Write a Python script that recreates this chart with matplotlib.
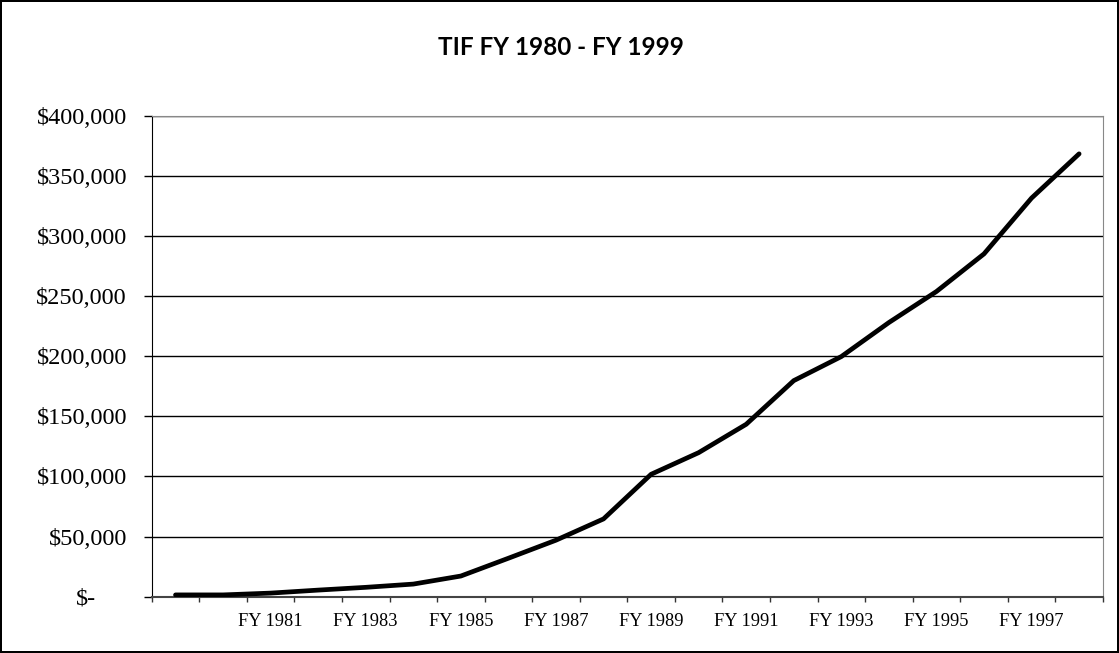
import matplotlib
matplotlib.use("Agg")
import matplotlib.pyplot as plt
import matplotlib.transforms as mtransforms
from matplotlib.ticker import FixedLocator, FuncFormatter

# fiscal years along the category axis (only every other one is labelled)
years = list(range(1979, 1999))
tif = [1500, 1500, 3000, 5500, 7800, 10500, 17200, 32000, 47000, 64700,
       101800, 119800, 143400, 179700, 199700, 228000, 253800, 285100,
       331500, 368300]
label_every = 2
y_ticks = list(range(0, 400001, 50000))
title = "TIF FY 1980 - FY 1999"

fig = plt.figure(figsize=(11.19, 6.53), dpi=100)
fig.patch.set_edgecolor("black")
fig.patch.set_linewidth(1.5)
ax = fig.add_axes([0.1356, 0.0862, 0.8500, 0.7366])

x = list(range(len(years)))
ax.plot(x, tif, color="black", linewidth=3.4, solid_capstyle="round",
        solid_joinstyle="round", zorder=3)

ax.set_xlim(-0.5, len(years) - 0.5)
ax.set_ylim(0, 400000)

# tick marks between categories, labels in the middle of the slots
ax.xaxis.set_major_locator(FixedLocator([i - 0.5 for i in range(len(years) + 1)]))
ax.xaxis.set_major_formatter(FuncFormatter(lambda v, p: ""))
lab_pos = [i for i in x if i >= 2 and i % label_every == 0]
ax.xaxis.set_minor_locator(FixedLocator(lab_pos))
ax.set_xticklabels([f"FY {years[i]}" for i in lab_pos], minor=True)
ax.tick_params(axis="x", which="major", direction="out", length=3.6, width=1, color="#333333")
ax.tick_params(axis="x", which="minor", length=0, pad=11.5, labelsize=13.2)
for t in ax.get_xticklabels(minor=True):
    t.set_fontfamily("Liberation Serif")

ax.set_yticks(y_ticks)
ax.yaxis.set_major_formatter(FuncFormatter(lambda v, p: "$-" if v == 0 else f"${int(v):,}"))
ax.tick_params(axis="y", direction="out", length=5.8, width=1, pad=12, labelsize=17.5)
for t in ax.get_yticklabels():
    t.set_fontfamily("Liberation Serif")
# accounting-style zero label sits further left
zero_lab = ax.get_yticklabels()[0]
zero_lab.set_transform(zero_lab.get_transform() +
                       mtransforms.ScaledTranslation(-0.31, 0, fig.dpi_scale_trans))

ax.grid(axis="y", color="black", linewidth=1)
ax.set_axisbelow(True)
ax.spines["left"].set_color("black")
ax.spines["bottom"].set_color("#444444")
ax.spines["bottom"].set_linewidth(1.5)
for s in ["top", "right"]:
    ax.spines[s].set_color("#888888")

fig.text(0.5013, 0.928, title, ha="center", va="center", fontsize=17.5,
         fontweight="bold", family="Lato")

fig.savefig("out.png", dpi=100, edgecolor=fig.get_edgecolor())
